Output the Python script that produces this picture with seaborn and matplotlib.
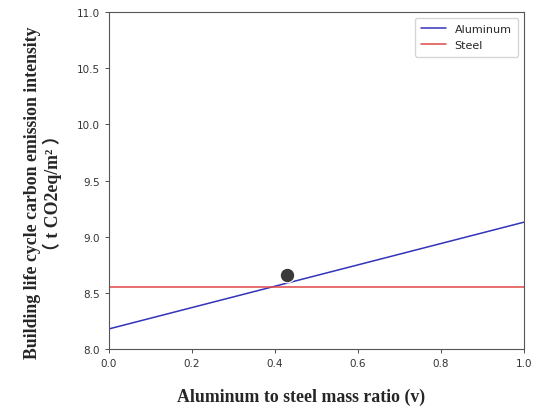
import numpy as np
import pandas as pd
import matplotlib
matplotlib.use("Agg")
import matplotlib.pyplot as plt
import seaborn as sns

# data
ratio = [0.0, 1.0]
aluminum = [8.18, 9.13]
steel = [8.55, 8.55]
point_x = [0.43]
point_y = [8.66]

sns.set_style("ticks")
plt.rcParams['font.family'] = ['DejaVu Sans']

df = pd.DataFrame({
    'ratio': ratio * 2,
    'value': aluminum + steel,
    'series': ['Aluminum'] * len(ratio) + ['Steel'] * len(ratio),
})

fig = plt.figure(figsize=(5.34, 4.10), dpi=100)
ax = fig.add_axes([0.204, 0.146, 0.777, 0.822])

sns.lineplot(data=df, x='ratio', y='value', hue='series',
             palette={'Aluminum': '#3333bb', 'Steel': '#e04848'},
             linewidth=1.1, ax=ax)
sns.scatterplot(x=point_x, y=point_y, s=110, color='#3a3a3a', ax=ax, zorder=5)

ax.set_xlim(0, 1)
ax.set_ylim(8.0, 11.0)
ax.set_xticks(np.arange(0, 1.01, 0.2))
ax.set_yticks(np.arange(8.0, 11.01, 0.5))
ax.tick_params(labelsize=7.5, colors='#333333', length=3, width=0.6)
for s in ax.spines.values():
    s.set_color('#555555')
    s.set_linewidth(0.8)

serif = ['Liberation Serif', 'Noto Sans CJK SC']
ax.set_xlabel('Aluminum to steel mass ratio (v)', fontsize=12.8,
              fontweight='bold', family=serif, labelpad=14, x=0.463)
ax.set_ylabel('Building life cycle carbon emission intensity\n（ t CO2eq/m² ）',
              fontsize=12.8, fontweight='bold', family=serif, labelpad=11,
              linespacing=1.1, y=0.466)

leg = ax.legend(loc='upper right', fontsize=8, frameon=True, fancybox=True,
                handlelength=2.2, borderpad=0.6)
leg.set_title(None)

fig.savefig('out.png', dpi=100)
